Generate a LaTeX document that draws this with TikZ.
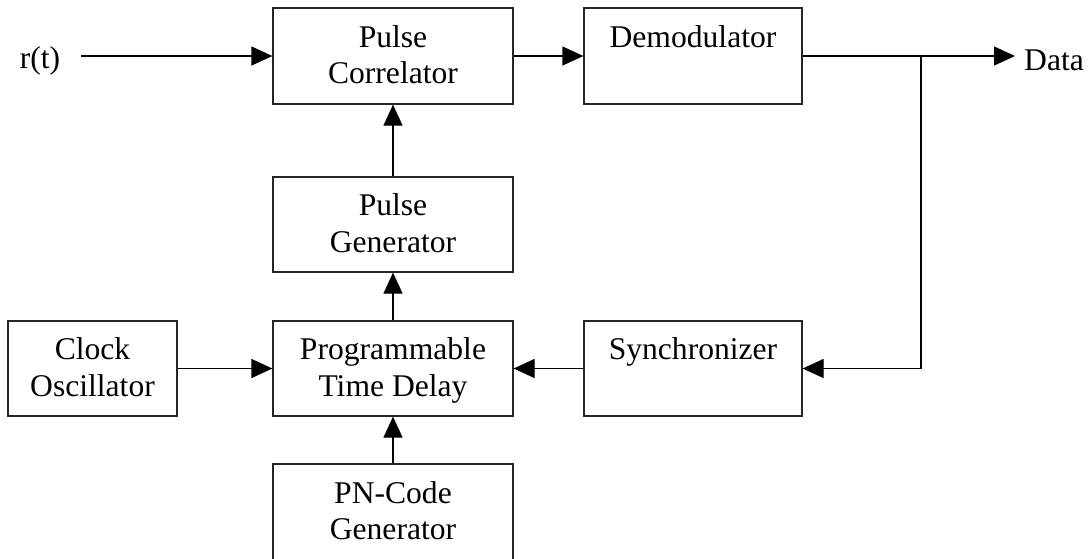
\documentclass[tikz,border=0pt]{standalone}
\usepackage{fontspec}
\setmainfont{Liberation Serif}
\usetikzlibrary{arrows.meta}
\newcommand{\lstrut}{\rule[-7.5pt]{0pt}{33.5pt}}
\begin{document}
\begin{tikzpicture}[x=1pt,y=-1pt,
  box/.style={draw=black!85, line width=1.2pt, inner sep=0pt, align=center,
    font=\fontsize{31.6}{36.5}\selectfont},
  lbl/.style={inner sep=0pt, font=\fontsize{31.6}{36.5}\selectfont},
  conn/.style={line width=1.2pt, -{Triangle[length=21pt,width=19pt]}},
  wire/.style={line width=1.2pt}]
\useasboundingbox (0,0) rectangle (1088,558);
% boxes
\node[box, minimum width=240pt, minimum height=96pt] (pc) at (393,56) {\lstrut Pulse\\\lstrut Correlator};
\node[box, minimum width=218pt, minimum height=96pt] (dem) at (693,56) {\lstrut Demodulator\\\lstrut};
\node[box, minimum width=240pt, minimum height=95pt] (pg) at (393,224.5) {\lstrut Pulse\\\lstrut Generator};
\node[box, minimum width=240pt, minimum height=95pt] (ptd) at (393,368.5) {\lstrut Programmable\\\lstrut Time Delay};
\node[box, minimum width=169pt, minimum height=95pt] (clk) at (92.5,368.5) {\lstrut Clock\\\lstrut Oscillator};
\node[box, minimum width=218pt, minimum height=95pt] (syn) at (693,368.5) {\lstrut Synchronizer\\\lstrut};
\node[box, minimum width=240pt, minimum height=96pt] (pn) at (393,512) {\lstrut PN-Code\\\lstrut Generator};
% labels
\node[lbl, anchor=base] (rt) at (40,68) {r(t)};
\node[lbl, anchor=base west] (data) at (1024,70) {Data};
% coordinates
\coordinate (rin) at (81,56);
\coordinate (dout) at (1015,56);
\coordinate (jn) at (921,56);
\coordinate (jc) at (921,368.5);
% connectors
\draw[conn] (rin) -- (pc.west);
\draw[conn] (pc.east) -- (dem.west);
\draw[conn] (dem.east) -- (dout);
\draw[wire] (jn) -- (jc);
\draw[conn] (jc) -- (syn.east);
\draw[conn] (syn.west) -- (ptd.east);
\draw[conn] (clk.east) -- (ptd.west);
\draw[conn] (ptd.north) -- (pg.south);
\draw[conn] (pg.north) -- (pc.south);
\draw[conn] (pn.north) -- (ptd.south);
\end{tikzpicture}
\end{document}
